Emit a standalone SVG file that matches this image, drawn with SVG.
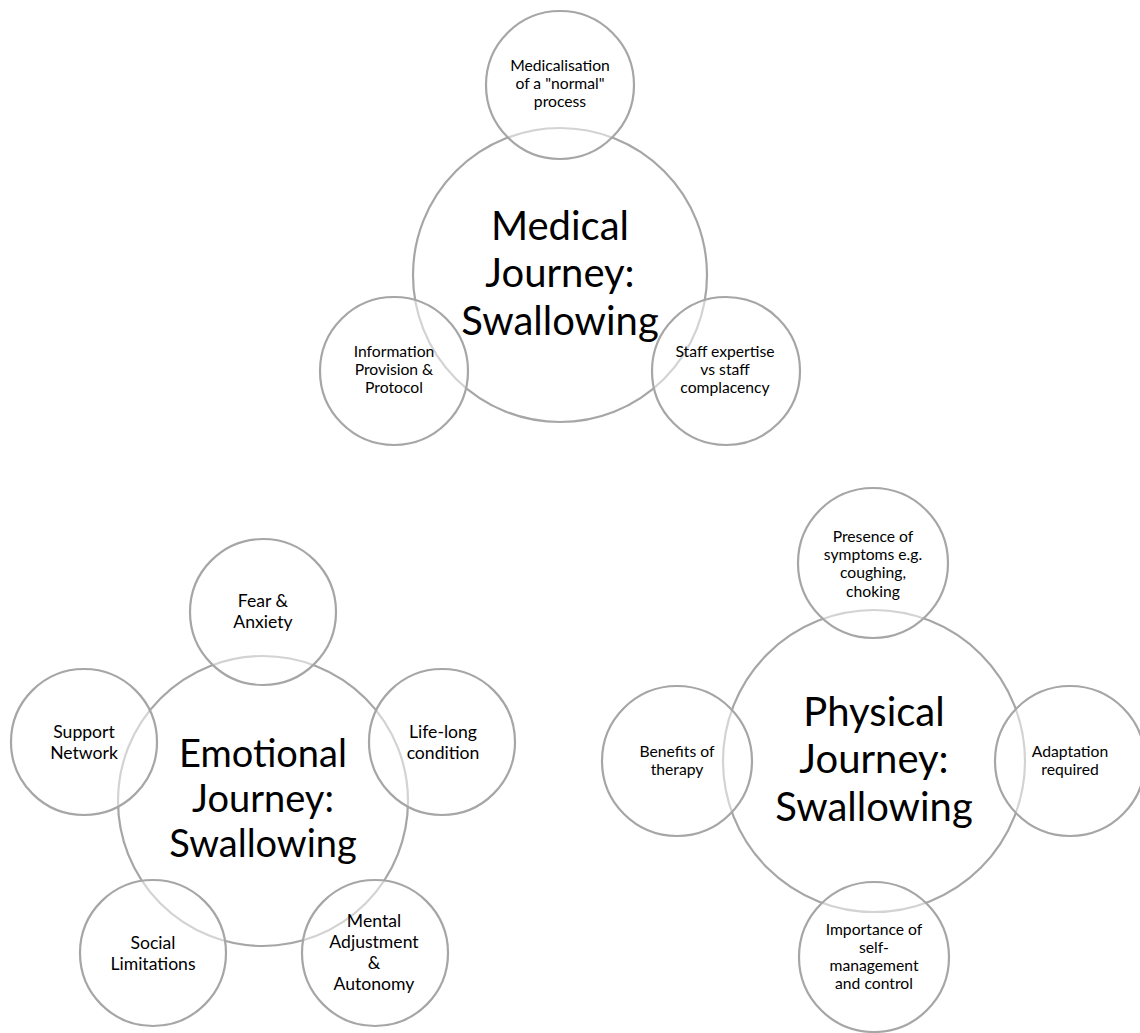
<svg xmlns="http://www.w3.org/2000/svg" width="1140" height="1033" viewBox="0 0 1140 1033">
  <style>
    .big { fill: #ffffff; stroke: #a6a6a6; stroke-width: 2.2; }
    .small { fill: #ffffff; fill-opacity: 0.5; stroke: #a6a6a6; stroke-width: 2.2; }
    text { font-family: Lato, "Liberation Sans", sans-serif; fill: #000000; text-anchor: middle; }
    .t1 { font-size: 40px; }
    .t1e { font-size: 38px; }
    .s { font-size: 15.7px; }
    .se { font-size: 17.6px; }
  </style>
  <rect width="1140" height="1033" fill="#ffffff"/>
  <g id="connectors"></g>

  <!-- Medical -->
  <g id="medical-center"><circle class="big" cx="560" cy="275" r="147"/></g>
  <g id="medical-top"><circle class="small" cx="560" cy="85" r="74"/></g>
  <g id="medical-left"><circle class="small" cx="394" cy="371" r="74"/></g>
  <g id="medical-right"><circle class="small" cx="726" cy="371" r="74"/></g>
  <g id="medical-text">
    <text class="t1" x="560" y="240">Medical</text>
    <text class="t1" x="560" y="287">Journey:</text>
    <text class="t1" x="560" y="335">Swallowing</text>
    <text class="s" x="560" y="71">Medicalisation</text>
    <text class="s" x="560" y="89">of a "normal"</text>
    <text class="s" x="560" y="107">process</text>
    <text class="s" x="394" y="357">Information</text>
    <text class="s" x="394" y="375">Provision &amp;</text>
    <text class="s" x="394" y="393">Protocol</text>
    <text class="s" x="725" y="357">Staff expertise</text>
    <text class="s" x="725" y="375">vs staff</text>
    <text class="s" x="725" y="393">complacency</text>
  </g>

  <!-- Emotional -->
  <g id="emotional-center"><circle class="big" cx="263" cy="801" r="145"/></g>
  <g id="emotional-top"><circle class="small" cx="263" cy="612" r="73"/></g>
  <g id="emotional-left"><circle class="small" cx="84" cy="742" r="73"/></g>
  <g id="emotional-right"><circle class="small" cx="442" cy="742" r="73"/></g>
  <g id="emotional-bottom-left"><circle class="small" cx="153" cy="953" r="73"/></g>
  <g id="emotional-bottom-right"><circle class="small" cx="375" cy="953" r="73"/></g>
  <g id="emotional-text">
    <text class="t1e" x="263" y="767">Emotional</text>
    <text class="t1e" x="263" y="812">Journey:</text>
    <text class="t1e" x="263" y="857">Swallowing</text>
    <text class="se" x="263" y="607">Fear &amp;</text>
    <text class="se" x="263" y="628">Anxiety</text>
    <text class="se" x="84" y="738">Support</text>
    <text class="se" x="84" y="759">Network</text>
    <text class="se" x="443" y="738">Life-long</text>
    <text class="se" x="443" y="759">condition</text>
    <text class="se" x="153" y="949">Social</text>
    <text class="se" x="153" y="970">Limitations</text>
    <text class="se" x="374" y="927">Mental</text>
    <text class="se" x="374" y="948">Adjustment</text>
    <text class="se" x="374" y="969">&amp;</text>
    <text class="se" x="374" y="990">Autonomy</text>
  </g>

  <!-- Physical -->
  <g id="physical-center"><circle class="big" cx="874" cy="761" r="151"/></g>
  <g id="physical-top"><circle class="small" cx="873" cy="563" r="75"/></g>
  <g id="physical-left"><circle class="small" cx="677" cy="761" r="75"/></g>
  <g id="physical-right"><circle class="small" cx="1070" cy="761" r="75"/></g>
  <g id="physical-bottom"><circle class="small" cx="874" cy="957" r="75"/></g>
  <g id="physical-text">
    <text class="t1" x="874" y="726">Physical</text>
    <text class="t1" x="874" y="773">Journey:</text>
    <text class="t1" x="874" y="821">Swallowing</text>
    <text class="s" x="873" y="542">Presence of</text>
    <text class="s" x="873" y="560">symptoms e.g.</text>
    <text class="s" x="873" y="578">coughing,</text>
    <text class="s" x="873" y="597">choking</text>
    <text class="s" x="677" y="757">Benefits of</text>
    <text class="s" x="677" y="775">therapy</text>
    <text class="s" x="1070" y="757">Adaptation</text>
    <text class="s" x="1070" y="775">required</text>
    <text class="s" x="874" y="935">Importance of</text>
    <text class="s" x="874" y="953">self-</text>
    <text class="s" x="874" y="971">management</text>
    <text class="s" x="874" y="989">and control</text>
  </g>
</svg>
